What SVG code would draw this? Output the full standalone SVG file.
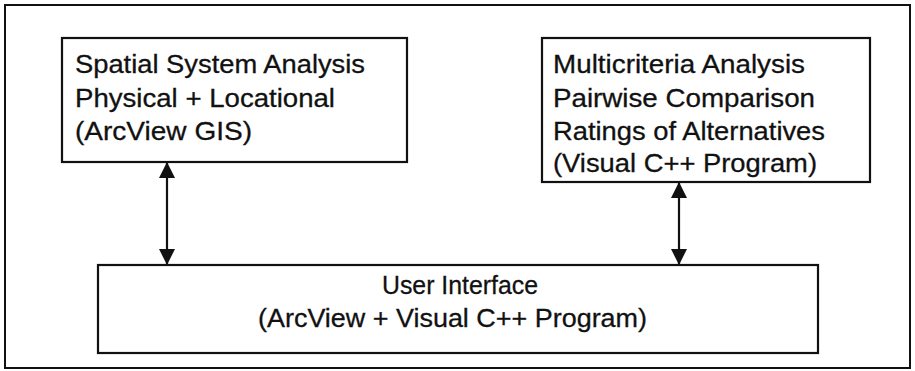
<svg xmlns="http://www.w3.org/2000/svg" width="915" height="371" viewBox="0 0 915 371">
<style>
.box{fill:#fff;stroke:#111;stroke-width:2.2}
.t{font-family:"Liberation Sans",Arial,sans-serif;font-size:26.5px;fill:#111;stroke:#111;stroke-width:0.3}
.c{stroke:#111;stroke-width:2.2;fill:none}
</style>
<defs>
<marker id="ah" markerWidth="16" markerHeight="16" viewBox="0 0 16 16" refX="15" refY="8" orient="auto-start-reverse" markerUnits="userSpaceOnUse">
<path d="M0,0 L16,8 L0,16 Z" fill="#111"/>
</marker>
</defs>
<rect x="0" y="0" width="915" height="371" fill="#fff"/>
<g id="frame"><rect x="5" y="5" width="905" height="363" fill="none" stroke="#111" stroke-width="2"/></g>
<g id="spatial">
<rect class="box" x="62" y="38" width="345" height="124"/>
<text class="t" x="75" y="73" textLength="290" lengthAdjust="spacingAndGlyphs">Spatial System Analysis</text>
<text class="t" x="75" y="107" textLength="260" lengthAdjust="spacingAndGlyphs">Physical + Locational</text>
<text class="t" x="75" y="140" textLength="177" lengthAdjust="spacingAndGlyphs">(ArcView GIS)</text>
</g>
<g id="multicriteria">
<rect class="box" x="542" y="38" width="328" height="144"/>
<text class="t" x="553" y="73" textLength="252" lengthAdjust="spacingAndGlyphs">Multicriteria Analysis</text>
<text class="t" x="553" y="107" textLength="262" lengthAdjust="spacingAndGlyphs">Pairwise Comparison</text>
<text class="t" x="553" y="140" textLength="272" lengthAdjust="spacingAndGlyphs">Ratings of Alternatives</text>
<text class="t" x="553" y="172" textLength="264" lengthAdjust="spacingAndGlyphs">(Visual C++ Program)</text>
</g>
<g id="ui">
<rect class="box" x="98" y="265" width="720" height="88"/>
<text class="t" x="382" y="294" textLength="156" lengthAdjust="spacingAndGlyphs">User Interface</text>
<text class="t" x="258" y="327" textLength="389" lengthAdjust="spacingAndGlyphs">(ArcView + Visual C++ Program)</text>
</g>
<g id="connectors">
<line class="c" x1="167" y1="163" x2="167" y2="264" marker-start="url(#ah)" marker-end="url(#ah)"/>
<line class="c" x1="679" y1="183" x2="679" y2="264" marker-start="url(#ah)" marker-end="url(#ah)"/>
</g>
</svg>
